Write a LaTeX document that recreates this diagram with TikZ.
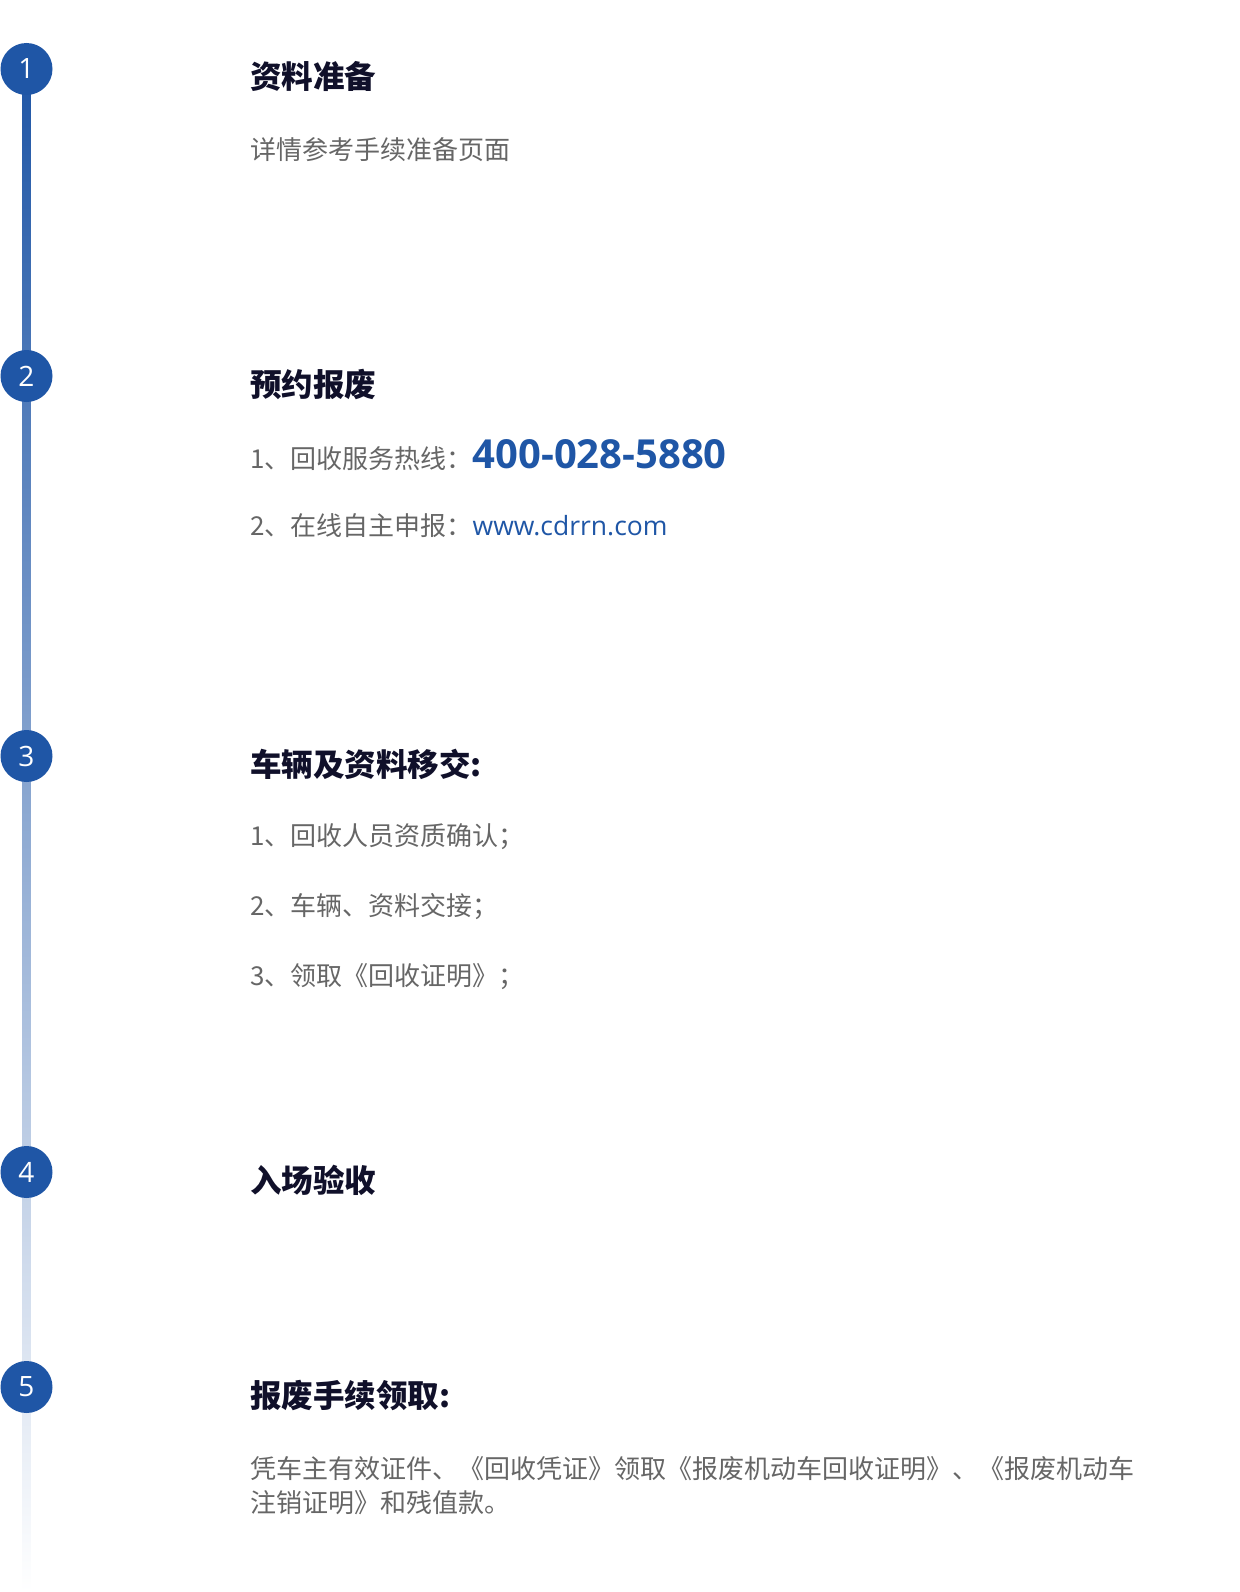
\documentclass[tikz,border=0pt]{standalone}
\usepackage{fontspec}
\setmainfont{Noto Sans CJK SC}
\newfontfamily\latinfont{Open Sans}
\usetikzlibrary{positioning}
\definecolor{stepblue}{HTML}{1F56A6}
\definecolor{titleink}{HTML}{10102A}
\definecolor{bodygray}{HTML}{666666}
\tikzstyle{num} = [circle, fill=stepblue, text=white, minimum size=52pt, inner sep=0pt, font=\latinfont\fontsize{28}{28}\selectfont]
\tikzstyle{title} = [anchor=west, inner sep=0pt, text=titleink, font=\fontsize{31.5}{34}\selectfont\bfseries]
\tikzstyle{body} = [anchor=west, inner sep=0pt, text=bodygray, align=left, font=\fontsize{26}{34}\selectfont]

\begin{document}
\begin{tikzpicture}[x=1pt, y=-1pt]
	\useasboundingbox[fill=white] (0,0) rectangle (1239,1592);
	% timeline
	\coordinate (linetop) at (22.5,69);
	\coordinate (lineend) at (30.5,1592);
	\shade[top color=stepblue, bottom color=white] (linetop) rectangle (lineend);
	% step markers
	\node[num] (n1) at (26.5,69) {1};
	\node[num] (n2) at (26.5,376) {2};
	\node[num] (n3) at (26.5,756) {3};
	\node[num] (n4) at (26.5,1172) {4};
	\node[num] (n5) at (26.5,1387) {5};
	% step 1
	\node[title] (t1) at (250,76) {资料准备};
	\node[body] (b1) at (250,150) {详情参考手续准备页面};
	% step 2
	\node[title] (t2) at (250,384) {预约报废};
	\node[body] (b21) at (250,455) {1、回收服务热线：\textcolor{stepblue}{\latinfont\bfseries\fontsize{40}{40}\selectfont 400-028-5880}};
	\node[body] (b22) at (250,526) {2、在线自主申报：\textcolor{stepblue}{\latinfont\fontsize{26.5}{34}\selectfont www.cdrrn.com}};
	% step 3
	\node[title] (t3) at (250,764) {车辆及资料移交:};
	\node[body] (b31) at (250,837) {1、回收人员资质确认；};
	\node[body] (b32) at (250,907) {2、车辆、资料交接；};
	\node[body] (b33) at (250,977) {3、领取《回收证明》；};
	% step 4
	\node[title] (t4) at (250,1180) {入场验收};
	% step 5
	\node[title] (t5) at (250,1395) {报废手续领取:};
	\node[body] (b5) at (250,1486) {凭车主有效证件、《回收凭证》领取《报废机动车回收证明》、《报废机动车\\注销证明》和残值款。};
\end{tikzpicture}
\end{document}
